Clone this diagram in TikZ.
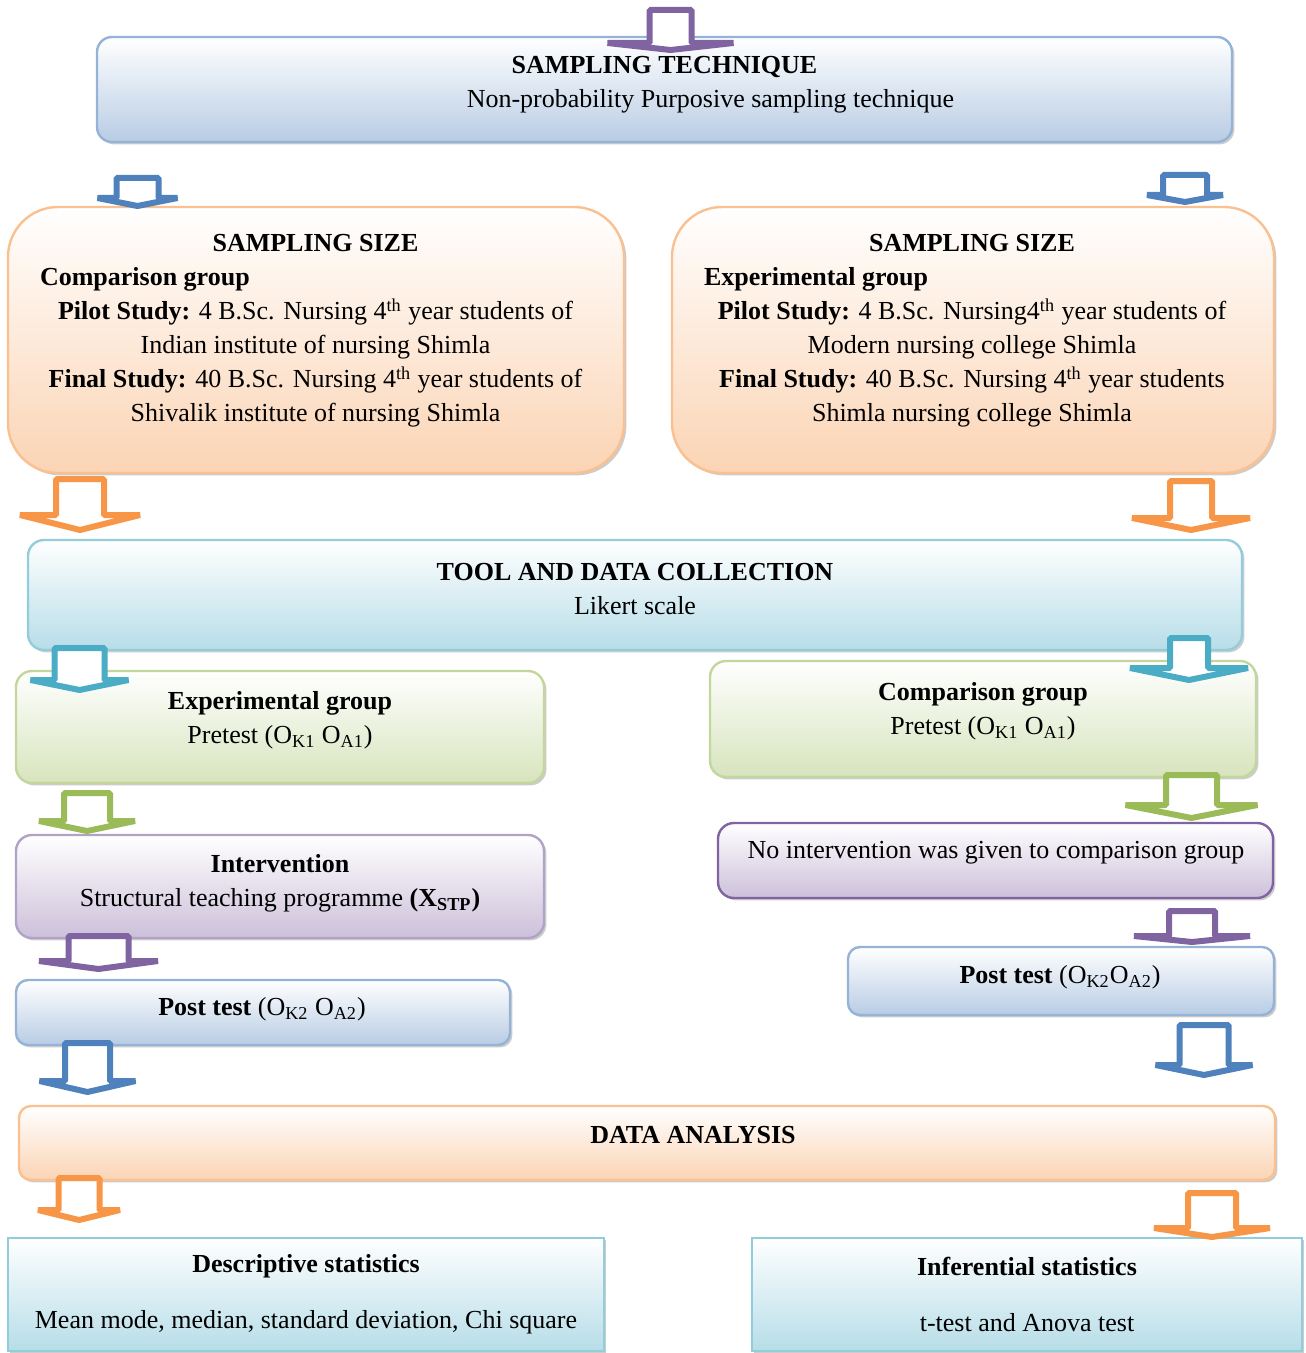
\documentclass[tikz,border=0pt]{standalone}
\usepackage{fontspec}
\setmainfont{Liberation Serif}
\usetikzlibrary{shadows}

\definecolor{blueLine}{HTML}{95B3D7}
\definecolor{blueFill}{HTML}{B8CCE4}
\definecolor{peachLine}{HTML}{FAC090}
\definecolor{peachFill}{HTML}{FBD4B4}
\definecolor{aquaLine}{HTML}{92CDDC}
\definecolor{aquaFill}{HTML}{B7DDE8}
\definecolor{greenLine}{HTML}{C3D69B}
\definecolor{greenFill}{HTML}{D7E4BD}
\definecolor{violetLine}{HTML}{B2A2C7}
\definecolor{violetFill}{HTML}{CCC0DA}
\definecolor{violetDark}{HTML}{8064A2}
\definecolor{arrBlue}{HTML}{4F81BD}
\definecolor{arrOrange}{HTML}{F79646}
\definecolor{arrAqua}{HTML}{4BACC6}
\definecolor{arrGreen}{HTML}{9BBB59}

\begin{document}
\begin{tikzpicture}[x=0.5pt,y=-0.5pt,
	box/.style={draw,line width=1.2pt,inner sep=0pt,top color=white,
		drop shadow={shadow xshift=1.2pt,shadow yshift=-1.2pt,fill=black!40}},
	txt/.style={align=flush center,inner sep=0pt,font=\fontsize{13}{17}\selectfont},
	blk/.style={line width=3pt,line join=bevel,fill=white},
	pics/blkarrow/.style n args={5}{code={
		\draw[blk,draw=#5] (-#1,3) -- (-#1,#3) -- (-#2,#3) -- (0,#4)
		-- (#2,#3) -- (#1,#3) -- (#1,3) -- cycle;}}]

	\useasboundingbox (0,0) rectangle (1305,1353);

	% boxes
	\node[box,draw=blueLine,bottom color=blueFill,rounded corners=7.5pt,
		minimum width=567.5pt,minimum height=52.5pt] (tech) at (664.5,89.5) {};
	\node[box,draw=peachLine,bottom color=peachFill,rounded corners=25pt,
		minimum width=308pt,minimum height=133pt] (sizeL) at (316,340) {};
	\node[box,draw=peachLine,bottom color=peachFill,rounded corners=25pt,
		minimum width=301pt,minimum height=133pt] (sizeR) at (973,340) {};
	\node[box,draw=aquaLine,bottom color=aquaFill,rounded corners=8pt,
		minimum width=607pt,minimum height=55pt] (tool) at (635,595) {};
	\node[box,draw=greenLine,bottom color=greenFill,rounded corners=8pt,
		minimum width=264pt,minimum height=56pt] (expg) at (280,727) {};
	\node[box,draw=greenLine,bottom color=greenFill,rounded corners=8pt,
		minimum width=273pt,minimum height=58pt] (cmpg) at (983,719) {};
	\node[box,draw=violetLine,bottom color=violetFill,rounded corners=8pt,
		minimum width=264pt,minimum height=51.5pt] (intv) at (280,886.5) {};
	\node[box,draw=violetDark,bottom color=violetFill,rounded corners=8pt,
		minimum width=277.5pt,minimum height=37.5pt] (noint) at (995.5,860.5) {};
	\node[box,draw=blueLine,bottom color=blueFill,rounded corners=6pt,
		minimum width=247pt,minimum height=32.5pt] (postL) at (263,1012.5) {};
	\node[box,draw=blueLine,bottom color=blueFill,rounded corners=6pt,
		minimum width=213pt,minimum height=34pt] (postR) at (1061,981) {};
	\node[box,draw=peachLine,bottom color=peachFill,rounded corners=6pt,
		minimum width=628pt,minimum height=37pt] (data) at (647,1143) {};
	\node[box,draw=aquaLine,bottom color=aquaFill,
		minimum width=298pt,minimum height=56.5pt] (desc) at (306,1294.5) {};
	\node[box,draw=aquaLine,bottom color=aquaFill,
		minimum width=275pt,minimum height=56.5pt] (inf) at (1027,1294.5) {};

	% block arrows
	\pic at (670.5,7) {blkarrow={21}{63}{36}{43}{violetDark}};
	\pic at (137.5,175) {blkarrow={21}{40}{23}{31}{arrBlue}};
	\pic at (1185,172) {blkarrow={22}{38}{23}{30}{arrBlue}};
	\pic at (80,476) {blkarrow={24}{60}{39}{54}{arrOrange}};
	\pic at (1191,478) {blkarrow={21}{59}{40}{52}{arrOrange}};
	\pic at (79.5,645) {blkarrow={25}{49}{35}{45}{arrAqua}};
	\pic at (1189,635) {blkarrow={19}{59}{33}{45}{arrAqua}};
	\pic at (87,790) {blkarrow={23}{48}{31}{41}{arrGreen}};
	\pic at (1191.5,772) {blkarrow={25.5}{66}{33}{46}{arrGreen}};
	\pic at (98.5,933) {blkarrow={30}{59.5}{28}{36}{violetDark}};
	\pic at (1192,908) {blkarrow={23}{58}{28}{34}{violetDark}};
	\pic at (87.5,1040) {blkarrow={22.5}{48}{41}{52}{arrBlue}};
	\pic at (1204,1022) {blkarrow={24.5}{48.5}{43}{53}{arrBlue}};
	\pic at (79,1175) {blkarrow={20.5}{41}{35}{45}{arrOrange}};
	\pic at (1212,1190) {blkarrow={24}{58}{38}{47}{arrOrange}};

	% texts
	\node[txt] (techT) at (664.5,85) {\textbf{SAMPLING TECHNIQUE}\\
		\hspace*{46pt}Non-probability Purposive sampling technique};
	\node[txt,text width=275.5pt] (sizeLT) at (315.5,331) {\textbf{SAMPLING SIZE}\\
		\textbf{Comparison group}\hfill\mbox{}\\
		\textbf{Pilot Study:} 4 B.Sc. Nursing 4\textsuperscript{th} year students of\\
		Indian institute of nursing Shimla\\
		\textbf{Final Study:} 40 B.Sc. Nursing 4\textsuperscript{th} year students of\\
		Shivalik institute of nursing Shimla};
	\node[txt,text width=268pt] (sizeRT) at (972,331) {\textbf{SAMPLING SIZE}\\
		\textbf{Experimental group}\hfill\mbox{}\\
		\textbf{Pilot Study:} 4 B.Sc. Nursing4\textsuperscript{th} year students of\\
		Modern nursing college Shimla\\
		\textbf{Final Study:} 40 B.Sc. Nursing 4\textsuperscript{th} year students\\
		Shimla nursing college Shimla};
	\node[txt] (toolT) at (635,589) {\textbf{TOOL AND DATA COLLECTION}\\Likert scale};
	\node[txt] (expgT) at (280,720) {\textbf{Experimental group}\\
		Pretest (O\textsubscript{K1} O\textsubscript{A1})};
	\node[txt] (cmpgT) at (983,711) {\textbf{Comparison group}\\
		Pretest (O\textsubscript{K1} O\textsubscript{A1})};
	\node[txt] (intvT) at (280,883) {\textbf{Intervention}\\
		Structural teaching programme \textbf{(X\textsubscript{STP})}};
	\node[txt] (nointT) at (996,853) {No intervention was given to comparison group};
	\node[txt] (postLT) at (262,1009) {\textbf{Post test} (O\textsubscript{K2} O\textsubscript{A2})};
	\node[txt] (postRT) at (1060,977) {\textbf{Post test} (O\textsubscript{K2}O\textsubscript{A2})};
	\node[txt] (dataT) at (693,1135) {\textbf{DATA ANALYSIS}};
	\node[txt] (descT) at (306,1294) {\textbf{Descriptive statistics}\\[11pt]
		Mean mode, median, standard deviation, Chi square};
	\node[txt] (infT) at (1027,1294) {\textbf{Inferential statistics}\\[11pt]
		t-test and Anova test};
\end{tikzpicture}
\end{document}
